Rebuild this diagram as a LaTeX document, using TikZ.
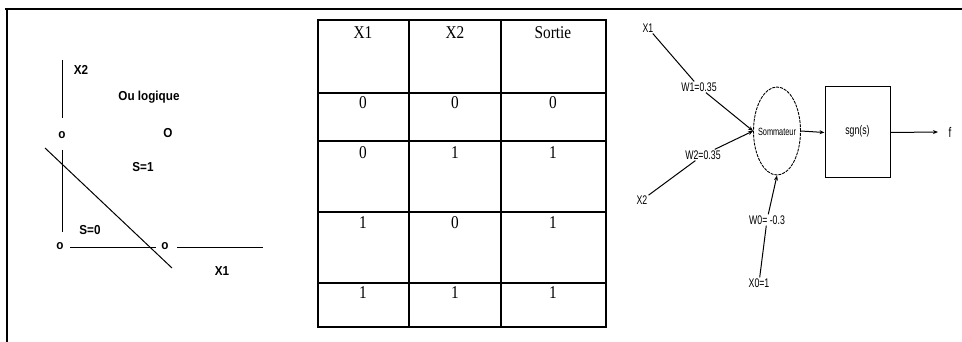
\documentclass[tikz,border=0pt]{standalone}
\usepackage{fontspec}
\setmainfont{Liberation Serif}
\newfontfamily\gsans{Liberation Sans}
\newfontfamily\nsans[FakeStretch=0.7]{Liberation Sans}
\usetikzlibrary{arrows.meta,shapes.geometric}
\begin{document}
\begin{tikzpicture}[x=1pt,y=-1pt,
  frame/.style={line width=1.1pt},
  tline/.style={line width=1.2pt},
  tabtxt/.style={font=\fontsize{18}{20}\selectfont\addfontfeature{FakeStretch=0.85},inner sep=0pt},
  gtxt/.style={font=\gsans\bfseries\fontsize{13}{15}\selectfont\addfontfeature{FakeStretch=0.9},inner sep=0pt},
  gline/.style={line width=1pt},
  ntxt/.style={font=\nsans\fontsize{12.5}{14}\selectfont,inner sep=1pt},
  nline/.style={line width=1pt},
  narr/.style={line width=1pt,-{Stealth[length=5pt,width=4pt]}}]
\useasboundingbox (0,0) rectangle (962,342);
\fill[white] (0,0) rectangle (962,342);
% outer frame
\coordinate (fa) at (5,9);
\coordinate (fb) at (962,9);
\coordinate (fc) at (7,342);
\draw[frame] (fa) -- (fb);
\draw[frame] (7,9) -- (fc);

% ---------- left graph ----------
\coordinate (ya) at (62,60);
\coordinate (yb) at (62,118);
\coordinate (yc) at (62,150);
\coordinate (yd) at (62,232);
\draw[gline] (ya) -- (yb);
\draw[gline] (yc) -- (yd);
\coordinate (xa) at (70,247);
\coordinate (xb) at (156,247);
\coordinate (xc) at (177,247);
\coordinate (xd) at (263,247);
\draw[gline] (xa) -- (xb);
\draw[gline] (xc) -- (xd);
\coordinate (la) at (45,148);
\coordinate (lb) at (172,268);
\draw[gline] (la) -- (lb);
\node[gtxt] (lx2) at (81,70) {X2};
\node[gtxt] (lou) at (149,97) {Ou logique};
\node[gtxt] (lp01) at (62,135) {o};
\node[gtxt] (lp11) at (168,133) {O};
\node[gtxt] (ls1) at (143,167) {S=1};
\node[gtxt] (ls0) at (90,230) {S=0};
\node[gtxt] (lp00) at (60,246) {o};
\node[gtxt] (lp10) at (165,246) {o};
\node[gtxt] (lx1) at (222,271) {X1};

% ---------- table ----------
\draw[tline] (318,20) rectangle (606,327);
\foreach \xx in {409,501} \draw[tline] (\xx,20) -- (\xx,327);
\foreach \yy in {93,141,212,283} \draw[tline] (318,\yy) -- (606,\yy);
\node[tabtxt] (h1) at (363,33) {X1};
\node[tabtxt] (h2) at (455,33) {X2};
\node[tabtxt] (h3) at (553,33) {Sortie};
\node[tabtxt] (a1) at (363,103) {0};
\node[tabtxt] (a2) at (455,103) {0};
\node[tabtxt] (a3) at (553,103) {0};
\node[tabtxt] (b1) at (363,153) {0};
\node[tabtxt] (b2) at (455,153) {1};
\node[tabtxt] (b3) at (553,153) {1};
\node[tabtxt] (c1) at (363,223) {1};
\node[tabtxt] (c2) at (455,223) {0};
\node[tabtxt] (c3) at (553,223) {1};
\node[tabtxt] (d1) at (363,293) {1};
\node[tabtxt] (d2) at (455,293) {1};
\node[tabtxt] (d3) at (553,293) {1};

% ---------- neuron ----------
\node[ellipse,draw,line width=0.9pt,dash pattern=on 3pt off 1pt,minimum width=47pt,minimum height=88pt,inner sep=0pt] (sum) at (777,131) {};
\node[ntxt,font=\nsans\fontsize{10.5}{12}\selectfont] (sumt) at (777,132) {Sommateur};
\node[draw,line width=1pt,minimum width=65pt,minimum height=91pt,inner sep=0pt] (sgn) at (857.5,132.5) {};
\node[ntxt] (sgnt) at (857.5,131) {sgn(s)};
\node[ntxt,font=\nsans\fontsize{14}{16}\selectfont] (out) at (950,132) {f};
\node[ntxt] (x1) at (648,28) {X1};
\node[ntxt] (w1) at (699,87) {W1=0.35};
\node[ntxt] (w2) at (703,155) {W2=0.35};
\node[ntxt] (x2) at (642,200) {X2};
\node[ntxt] (w0) at (767,220) {W0= -0.3};
\node[ntxt] (x0) at (759,283) {X0=1};
\draw[nline] (x1) -- (w1);
\draw[narr] (w1) -- (sum.west);
\draw[nline] (x2) -- (w2);
\draw[narr] (w2) -- (sum.west);
\draw[nline] (x0) -- (w0);
\draw[narr] (w0) -- (sum.south);
\draw[narr] (sum.east) -- (sgn.west);
\coordinate (fend) at (938,132);
\draw[narr] (sgn.east) -- (fend);
\end{tikzpicture}
\end{document}
